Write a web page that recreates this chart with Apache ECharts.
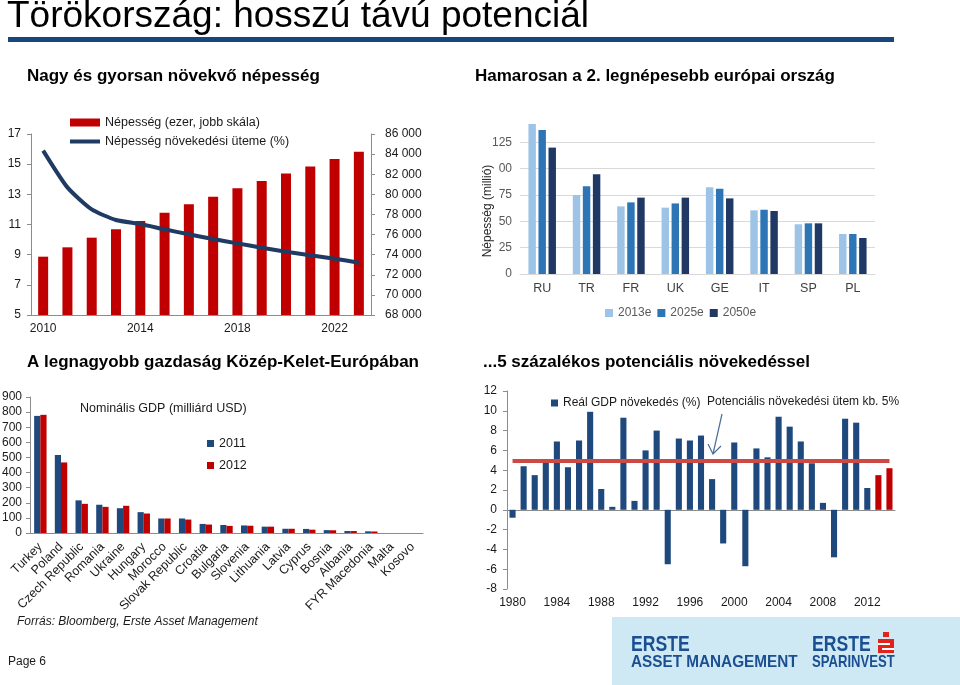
<!DOCTYPE html>
<html><head><meta charset="utf-8">
<script src="https://cdn.jsdelivr.net/npm/echarts@6/dist/echarts.min.js"></script>
<style>html,body{margin:0;padding:0;background:#fff}#c{width:960px;height:685px}</style>
</head><body><div id="c"></div>
<script>
// ---- Data: top-left (population) ----
const popYears = ['2010','2011','2012','2013','2014','2015','2016','2017','2018','2019','2020','2021','2022','2023'];
const popThousands = [73800, 74730, 75690, 76520, 77350, 78180, 79010, 79770, 80600, 81330, 82060, 82780, 83510, 84240];
const popGrowthRate = [15.9, 13.46, 12.0, 11.3, 11.03, 10.68, 10.35, 10.04, 9.75, 9.46, 9.2, 8.96, 8.73, 8.47];
const leftTicks = { min: 5, max: 17, step: 2 };
const rightTicks = { min: 68000, max: 86000, step: 2000 };

// ---- Data: top-right (European populations, million) ----
const countries = ['RU','TR','FR','UK','GE','IT','SP','PL'];
const pop2013e = [142.4, 75.0, 64.2, 63.0, 82.3, 60.4, 47.2, 38.0];
const pop2025e = [136.7, 83.2, 68.0, 67.0, 81.0, 61.0, 48.1, 38.0];
const pop2050e = [120.0, 94.6, 72.5, 72.5, 71.8, 59.8, 48.1, 34.2];

// ---- Data: bottom-left (nominal GDP, bn USD) ----
const gdpCountries = ['Turkey','Poland','Czech Republic','Romania','Ukraine','Hungary','Morocco','Slovak Republic','Croatia','Bulgaria','Slovenia','Lithuania','Latvia','Cyprus','Bosnia','Albania','FYR Macedonia','Malta','Kosovo'];
const gdp2011 = [775, 516, 216, 187, 164, 138, 96, 96, 60, 53, 50, 42, 28, 27, 19, 13, 11, null, null];
const gdp2012 = [782, 467, 193, 173, 180, 129, 96, 89, 56, 47, 48, 42, 28, 22, 18, 13, 10, null, null];

// ---- Data: bottom-right (real GDP growth %) ----
const growthYears = ['1980','1981','1982','1983','1984','1985','1986','1987','1988','1989','1990','1991','1992','1993','1994','1995','1996','1997','1998','1999','2000','2001','2002','2003','2004','2005','2006','2007','2008','2009','2010','2011','2012','2013','2014'];
const realGdpGrowth = [-0.8, 4.4, 3.5, 4.8, 6.9, 4.3, 7.0, 9.9, 2.1, 0.3, 9.3, 0.9, 6.0, 8.0, -5.5, 7.2, 7.0, 7.5, 3.1, -3.4, 6.8, -5.7, 6.2, 5.3, 9.4, 8.4, 6.9, 4.7, 0.7, -4.8, 9.2, 8.8, 2.2, 3.5, 4.2];
const forecastYears = ['2013','2014'];
const potentialRate = 5;

const chart = echarts.init(document.getElementById('c'), null, {renderer:'canvas', width:960, height:685});
const FONT = "'Liberation Sans', Arial, sans-serif";
const axisGray = '#8c8c8c';
const txt = '#1a1a1a';
const thousands = v => String(v).replace(/\B(?=(\d{3})+(?!\d))/g, ' ');

function T(text, x, y, font, fill, extra, align) {
  const a = align || 'left';
  return Object.assign({type:'text', x:x, y:y, silent:true,
    style:{text:text, font:font, fill:fill||'#000', align:a, textAlign:a, verticalAlign:'middle', textVerticalAlign:'middle'}}, extra||{});
}

const option = {
  animation:false,
  textStyle:{fontFamily:FONT},
  grid:[
    {left:31, top:134, width:340, height:181, containLabel:false, outerBoundsMode:'none'},
    {left:520, top:116, width:355, height:158, containLabel:false, outerBoundsMode:'none'},
    {left:30, top:397, width:393, height:136, containLabel:false, outerBoundsMode:'none'},
    {left:507, top:391, width:388, height:198, containLabel:false, outerBoundsMode:'none'}
  ],
  legend:[
    {data:['Népesség (ezer, jobb skála)'], left:65, top:111, itemWidth:30, itemHeight:8, icon:'rect', selectedMode:false,
     textStyle:{fontSize:12.5, color:'#1a1a1a', fontFamily:FONT}},
    {data:['Népesség növekedési üteme (%)'], left:65, top:130, itemWidth:30, itemHeight:4, icon:'rect', selectedMode:false,
     textStyle:{fontSize:12.5, color:'#1a1a1a', fontFamily:FONT}},
    {data:['2013e','2025e','2050e'], left:600, top:302, itemWidth:8, itemHeight:8, itemGap:6, icon:'rect', selectedMode:false,
     textStyle:{fontSize:12, color:'#595959', fontFamily:FONT}},
    {data:['2011','2012'], orient:'vertical', left:202, top:432, itemWidth:7, itemHeight:7, itemGap:9, icon:'rect', selectedMode:false,
     textStyle:{fontSize:12.5, color:'#1a1a1a', fontFamily:FONT}},
    {data:['Reál GDP növekedés (%)'], left:546, top:392, itemWidth:7, itemHeight:7, icon:'rect', selectedMode:false,
     textStyle:{fontSize:12, color:'#1a1a1a', fontFamily:FONT}}
  ],
  xAxis:[
    {gridIndex:0, type:'category', data:popYears, axisLine:{lineStyle:{color:axisGray}},
     axisTick:{interval:3, length:4, lineStyle:{color:axisGray}}, axisLabel:{interval:3, color:txt, fontSize:12, margin:8}},
    {gridIndex:1, type:'category', data:countries, axisLine:{lineStyle:{color:'#d9d9d9'}}, axisTick:{show:false},
     axisLabel:{color:'#404040', fontSize:12.5, margin:8}},
    {gridIndex:2, type:'category', data:gdpCountries, axisLine:{lineStyle:{color:axisGray}},
     axisTick:{length:4, lineStyle:{color:axisGray}}, axisLabel:{rotate:45, interval:0, color:txt, fontSize:12.5, margin:12}},
    {gridIndex:3, type:'category', data:growthYears, position:'bottom', axisLine:{onZero:true, lineStyle:{color:axisGray}},
     axisTick:{interval:0, length:3, lineStyle:{color:axisGray}}, axisLabel:{show:false}},
    {gridIndex:3, type:'category', data:growthYears, position:'bottom', axisLine:{show:false, onZero:false},
     axisTick:{show:false}, axisLabel:{interval:3, color:txt, fontSize:12, margin:8}}
  ],
  yAxis:[
    {gridIndex:0, type:'value', min:leftTicks.min, max:leftTicks.max, interval:leftTicks.step, position:'left',
     axisLine:{show:true, lineStyle:{color:axisGray}}, axisTick:{show:true, length:4, lineStyle:{color:axisGray}},
     splitLine:{show:false}, axisLabel:{color:txt, fontSize:12, margin:10}},
    {gridIndex:0, type:'value', min:rightTicks.min, max:rightTicks.max, interval:rightTicks.step, position:'right',
     axisLine:{show:true, lineStyle:{color:axisGray}}, axisTick:{show:true, length:4, lineStyle:{color:axisGray}},
     splitLine:{show:false}, axisLabel:{color:txt, fontSize:12, margin:14, formatter:thousands}},
    {gridIndex:1, type:'value', min:0, max:150, interval:25, axisLine:{show:false}, axisTick:{show:false},
     splitLine:{show:true, showMaxLine:false, lineStyle:{color:'#d9d9d9'}},
     axisLabel:{showMaxLabel:false, color:'#595959', fontSize:12, margin:8, formatter:v => v === 100 ? '00' : String(v)}},
    {gridIndex:2, type:'value', min:0, max:900, interval:100, axisLine:{show:true, lineStyle:{color:axisGray}},
     axisTick:{show:true, length:4, lineStyle:{color:axisGray}}, splitLine:{show:false},
     axisLabel:{color:txt, fontSize:12, margin:8}},
    {gridIndex:3, type:'value', min:-8, max:12, interval:2, axisLine:{show:true, lineStyle:{color:axisGray}},
     axisTick:{show:true, length:4, lineStyle:{color:axisGray}}, splitLine:{show:false},
     axisLabel:{color:txt, fontSize:12, margin:10}}
  ],
  series:[
    {name:'Népesség (ezer, jobb skála)', type:'bar', xAxisIndex:0, yAxisIndex:1, data:popThousands,
     barWidth:10, itemStyle:{color:'#c00000'}},
    {name:'Népesség növekedési üteme (%)', type:'line', xAxisIndex:0, yAxisIndex:0, data:popGrowthRate,
     symbol:'none', smooth:0.2, lineStyle:{color:'#1f3a63', width:4}, itemStyle:{color:'#1f3a63'}, z:5},
    {name:'2013e', type:'bar', xAxisIndex:1, yAxisIndex:2, data:pop2013e, itemStyle:{color:'#9dc3e6'}, barGap:'35%', barCategoryGap:'38%'},
    {name:'2025e', type:'bar', xAxisIndex:1, yAxisIndex:2, data:pop2025e, itemStyle:{color:'#2e75b6'}, barGap:'35%', barCategoryGap:'38%'},
    {name:'2050e', type:'bar', xAxisIndex:1, yAxisIndex:2, data:pop2050e, itemStyle:{color:'#203864'}, barGap:'35%', barCategoryGap:'38%'},
    {name:'2011', type:'bar', xAxisIndex:2, yAxisIndex:3, data:gdp2011, itemStyle:{color:'#1f497d'}, barGap:'0%', barCategoryGap:'40%'},
    {name:'2012', type:'bar', xAxisIndex:2, yAxisIndex:3, data:gdp2012, itemStyle:{color:'#c00000'}, barGap:'0%', barCategoryGap:'40%'},
    {name:'Reál GDP növekedés (%)', type:'bar', xAxisIndex:3, yAxisIndex:4, barWidth:'55%',
     itemStyle:{color:'#1f497d'},
     data:realGdpGrowth.map((v,i) => ({value:v, itemStyle:{color: forecastYears.includes(growthYears[i]) ? '#c00000' : '#1f497d'}})),
     markLine:{silent:true, symbol:'none', label:{show:false}, z:10,
       lineStyle:{color:'#cc4a43', width:4, type:'solid'},
       data:[[{coord:[growthYears[0], potentialRate]}, {coord:[growthYears[growthYears.length-1], potentialRate]}]]}}
  ],
  graphic:[
    T('Törökország: hosszú távú potenciál', 7, 17, `37px ${FONT}`, '#000'),
    {type:'rect', silent:true, shape:{x:8, y:37, width:886, height:5}, style:{fill:'#17477d'}},
    T('Nagy és gyorsan növekvő népesség', 27, 76, `bold 17px ${FONT}`, '#000'),
    T('Hamarosan a 2. legnépesebb európai ország', 475, 76, `bold 17px ${FONT}`, '#000'),
    T('A legnagyobb gazdaság Közép-Kelet-Európában', 27, 362, `bold 17px ${FONT}`, '#000'),
    T('...5 százalékos potenciális növekedéssel', 483, 362, `bold 17px ${FONT}`, '#000'),
    T('Népesség (millió)', 488, 211, `12px ${FONT}`, '#262626', {rotation: Math.PI / 2}, 'center'),
    T('Nominális GDP (milliárd USD)', 80, 409, `12.5px ${FONT}`, '#1a1a1a'),
    T('Potenciális növekedési ütem kb. 5%', 707, 402, `12px ${FONT}`, '#1a1a1a'),
    {type:'polyline', silent:true, shape:{points:[[722,414],[713,454]]}, style:{stroke:'#4a6d96', lineWidth:1.2, fill:null}},
    {type:'polyline', silent:true, shape:{points:[[708,444],[713,454],[721,446]]}, style:{stroke:'#4a6d96', lineWidth:1.2, fill:null}},
    T('Forrás: Bloomberg, Erste Asset Management', 17, 622, `italic 12px ${FONT}`, '#1a1a1a'),
    T('Page 6', 8, 662, `12px ${FONT}`, '#1a1a1a'),
    {type:'rect', silent:true, shape:{x:612, y:617, width:348, height:68}, style:{fill:'#cfe9f4'}},
    T('ERSTE', 631, 645, `bold 22px ${FONT}`, '#1b4f91', {scaleX:0.8}),
    T('ASSET MANAGEMENT', 631, 662, `bold 17px ${FONT}`, '#1b4f91', {scaleX:0.9}),
    T('ERSTE', 812, 645, `bold 22px ${FONT}`, '#1b4f91', {scaleX:0.8}),
    T('SPARINVEST', 812, 662, `bold 17px ${FONT}`, '#1b4f91', {scaleX:0.77}),
    {type:'rect', silent:true, shape:{x:883, y:632, width:6, height:5}, style:{fill:'#e2231a'}},
    {type:'rect', silent:true, shape:{x:878, y:639, width:16, height:14}, style:{fill:'#e2231a'}},
    {type:'rect', silent:true, shape:{x:878, y:643, width:12, height:2}, style:{fill:'#ffffff'}},
    {type:'rect', silent:true, shape:{x:882, y:648, width:12, height:2}, style:{fill:'#ffffff'}}
  ]
};
chart.setOption(option);
</script>
</body></html>
